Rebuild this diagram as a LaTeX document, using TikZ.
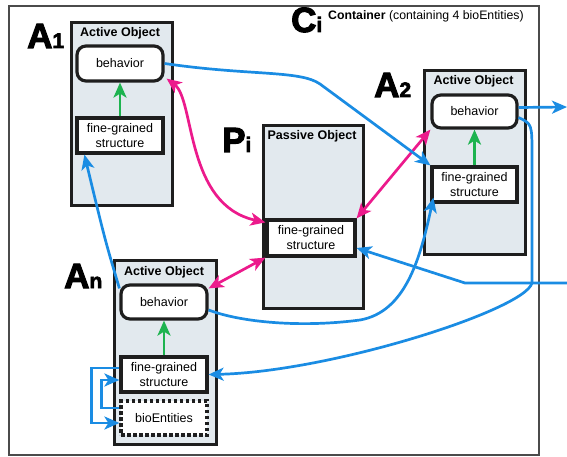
\documentclass[tikz,border=0pt]{standalone}
\usepackage{fontspec}
\setmainfont{Liberation Sans}
\newfontfamily\bigfont[FakeBold=3]{Liberation Sans Bold}
\usetikzlibrary{arrows.meta}
\definecolor{cblue}{HTML}{1A8CE3}
\definecolor{cpink}{HTML}{EC1A8C}
\definecolor{cgreen}{HTML}{1DB34F}
\definecolor{cfill}{HTML}{E2E9EE}
\definecolor{cline}{HTML}{1E1E1E}
\begin{document}
\begin{tikzpicture}[x=1pt,y=-1pt,
  container/.style={draw=cline!80, line width=2.4pt, anchor=north west, inner sep=0pt},
  objbox/.style={draw=cline, line width=3.4pt, fill=cfill, anchor=north west, inner sep=0pt},
  inbox/.style={draw=cline, line width=3.2pt, fill=white, minimum width=86pt, minimum height=35pt, inner sep=0pt, align=center, font=\fontsize{12.5}{15}\selectfont},
  behbox/.style={inbox, rounded corners=9pt},
  biobox/.style={inbox, dash pattern=on 3.5pt off 2.5pt},
  title/.style={font=\bfseries\fontsize{12.5}{14}\selectfont, anchor=base, inner sep=0pt},
  biglbl/.style={anchor=base west, inner sep=0pt, font=\bigfont\fontsize{35}{35}\selectfont},
  tip/.style={-{Stealth[length=15pt,width=13pt,inset=4pt]}},
  blueconn/.style={draw=cblue, line width=2.7pt, tip, cblue},
  pinkconn/.style={draw=cpink, line width=2.7pt, {Stealth[length=15pt,width=13pt,inset=4pt]}-{Stealth[length=15pt,width=13pt,inset=4pt]}},
  greenconn/.style={draw=cgreen, line width=2.9pt, tip}
]
\useasboundingbox (0,0) rectangle (567,457);
\fill[white] (0,0) rectangle (567,457);

% container
\node[container, minimum width=530pt, minimum height=449pt] (C) at (8,5) {};
\node[biglbl] (Clbl) at (291,32) {C{\fontsize{21}{21}\selectfont i}};
\node[anchor=base west, inner sep=0pt, font=\fontsize{12.3}{14}\selectfont] (Ctxt) at (328,20) {\textbf{Container} (containing 4 bioEntities)};

% A1
\node[objbox, minimum width=101pt, minimum height=183pt] (A1box) at (70,21) {};
\node[title] (A1t) at (120,37) {Active Object};
\node[behbox] (A1beh) at (120,63.5) {behavior};
\node[inbox] (A1fg) at (120,135.5) {fine-grained\\structure};
\node[biglbl] (A1lbl) at (27,48) {A{\fontsize{21}{21}\selectfont 1}};

% Pi
\node[objbox, minimum width=100pt, minimum height=183pt] (Pbox) at (262,124) {};
\node[title] (Pt) at (312,140) {Passive Object};
\node[inbox, minimum width=88pt, minimum height=36pt] (Pfg) at (311,238) {fine-grained\\structure};
\node[biglbl] (Plbl) at (222,152) {P{\fontsize{21}{21}\selectfont i}};

% A2
\node[objbox, minimum width=101pt, minimum height=184pt] (A2box) at (423,69) {};
\node[title] (A2t) at (473.5,85) {Active Object};
\node[behbox, minimum height=33pt, minimum width=85pt] (A2beh) at (474.5,111.5) {behavior};
\node[inbox, minimum width=85pt] (A2fg) at (474.5,184.5) {fine-grained\\structure};
\node[biglbl] (A2lbl) at (374,97) {A{\fontsize{21}{21}\selectfont 2}};

% An
\node[objbox, minimum width=102pt, minimum height=184pt] (Anbox) at (113,259) {};
\node[title] (Ant) at (164,275) {Active Object};
\node[behbox, minimum height=34pt] (Anbeh) at (164,302) {behavior};
\node[inbox] (Anfg) at (164,374.5) {fine-grained\\structure};
\node[biobox, minimum height=34pt] (Anbio) at (164,418) {bioEntities};
\node[biglbl] (Anlbl) at (64,288) {A{\fontsize{21}{21}\selectfont n}};

% green
\draw[greenconn] (A1fg.north) -- (A1beh.south);
\draw[greenconn] (A2fg.north) -- (A2beh.south);
\draw[greenconn] (Anfg.north) -- (Anbeh.south);

% pink
\draw[pinkconn] ([shift={(2,-4)}]A1beh.south east) .. controls (195,100) and (185,205) .. ([yshift=-4pt]Pfg.north west);
\draw[pinkconn] (A2beh.south west) -- (Pfg.north east);
\draw[pinkconn] ([yshift=-5pt]Anbeh.north east) -- (Pfg.south west);

% blue
\coordinate (out1) at (567,107);
\coordinate (in1) at (567,283);
\coordinate (bend1) at (465,283);
\draw[blueconn] (A1beh.east) .. controls (250,76) and (300,70) .. (320,84) -- (A2fg.north west);
\draw[blueconn] ([yshift=4pt]A2beh.east) -- (out1);
\draw[blueconn] ([yshift=-6pt]A2beh.east) .. controls (532,124) .. (532,155) -- (532,283) .. controls (525,310) and (330,372) .. (Anfg.east);
\draw[blueconn] (in1) -- (bend1) -- ([yshift=-10pt]Pfg.east);
\draw[blueconn] ([yshift=-8pt]Anbeh.east) .. controls (240,322) and (300,328) .. (360,320) .. controls (405,312) and (420,260) .. ([shift={(3,-6)}]A2fg.south west);
\draw[blueconn] ([yshift=-5pt]Anbeh.north west) .. controls (105,240) .. ([xshift=9pt]A1fg.south west);
\draw[blueconn] ([yshift=6.5pt]Anfg.west) -- ++(-28,0) |- ([yshift=-5pt]Anbio.west);
\draw[blueconn] ([yshift=10pt]Anbio.west) -- ++(-18,0) |- ([yshift=-5.5pt]Anfg.west);
\end{tikzpicture}
\end{document}
